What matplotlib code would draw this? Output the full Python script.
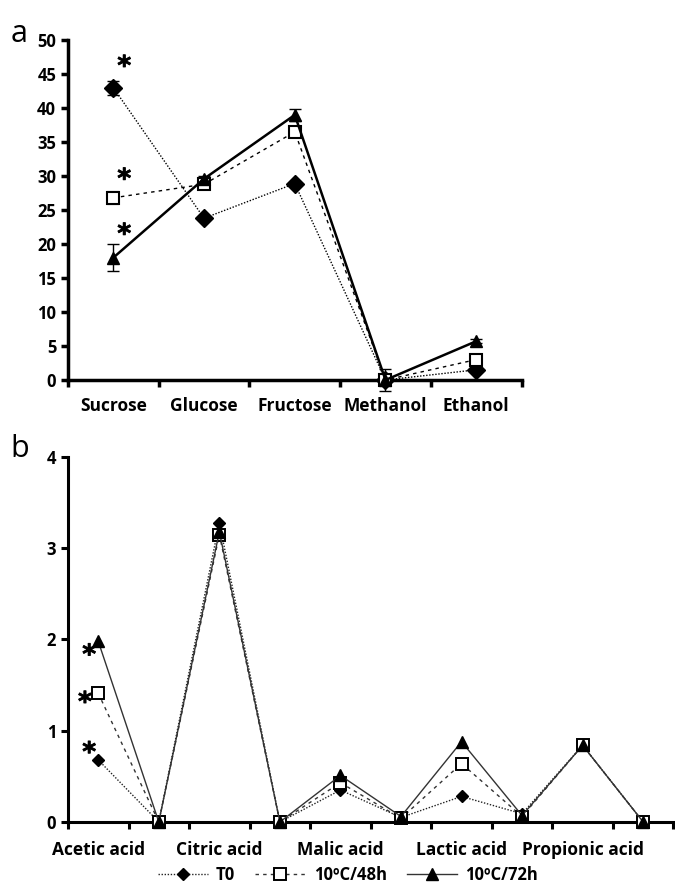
import numpy as np
import matplotlib
matplotlib.use("Agg")
import matplotlib.pyplot as plt
import matplotlib.patheffects as pe

plt.rcParams['font.family'] = ['Open Sans', 'DejaVu Sans']

# panel a: sugars and alcohols
sugars = ["Sucrose", "Glucose", "Fructose", "Methanol", "Ethanol"]
a_t0 = [43.0, 23.8, 28.9, 0.0, 1.5]
a_48 = [26.8, 28.8, 36.5, 0.0, 3.0]
a_72 = [18.0, 29.6, 39.0, 0.0, 5.7]
a_t0_err = [1.0, 0.3, 0.3, 0.0, 0.2]
a_48_err = [0.9, 0.4, 0.5, 0.0, 0.3]
a_72_err = [2.0, 0.4, 0.9, 1.6, 0.3]
a_star_y = [46.0, 29.4, 21.3]

# panel b: organic acids (every other position is an unlabeled point)
acid_labels = ["Acetic acid", "", "Citric acid", "", "Malic acid", "",
               "Lactic acid", "", "Propionic acid", ""]
b_t0 = [0.68, 0.0, 3.28, 0.0, 0.35, 0.05, 0.28, 0.09, 0.84, 0.0]
b_48 = [1.41, 0.0, 3.15, 0.0, 0.43, 0.04, 0.64, 0.06, 0.84, 0.0]
b_72 = [1.98, 0.0, 3.18, 0.0, 0.51, 0.06, 0.88, 0.07, 0.84, 0.0]
b_star_y = [1.82, 1.30, 0.75]

legend_labels = ["T0", "10ºC/48h", "10ºC/72h"]

fig = plt.figure(figsize=(6.75, 8.92), dpi=100)
ax1 = fig.add_axes([0.1007, 0.574, 0.672, 0.381])
ax2 = fig.add_axes([0.1007, 0.0785, 0.897, 0.4092])

star_fx = [pe.withStroke(linewidth=0.6, foreground="black")]


def style_axis(ax, n, labels, lw, size, pad):
    for s in ["top", "right"]:
        ax.spines[s].set_visible(False)
    for s in ["left", "bottom"]:
        ax.spines[s].set_linewidth(lw)
    ax.set_xlim(-0.5, n - 0.5)
    ax.set_xticks(np.arange(n + 1) - 0.5)
    ax.set_xticklabels([])
    ax.set_xticks(np.arange(n), minor=True)
    ax.set_xticklabels(labels, minor=True, fontsize=size, fontweight="bold")
    ax.tick_params(axis="x", which="major", direction="out", length=5, width=lw)
    ax.tick_params(axis="x", which="minor", length=0, pad=pad)
    ax.tick_params(axis="y", direction="out", length=5, width=lw, labelsize=12)
    for t in ax.get_yticklabels():
        t.set_fontweight("bold")


x1 = np.arange(len(sugars))
ax1.errorbar(x1, a_t0, yerr=a_t0_err, color="black", ls=(0, (1, 1.2)), lw=1,
             marker="D", ms=9, mfc="black", capsize=4, elinewidth=1, zorder=3)
ax1.errorbar(x1, a_48, yerr=a_48_err, color="black", ls=(0, (2.5, 3)), lw=1,
             marker="s", ms=8, mfc="white", mew=1.5, capsize=4, elinewidth=1, zorder=3)
ax1.errorbar(x1, a_72, yerr=a_72_err, color="black", ls="-", lw=1.8,
             marker="^", ms=9, mfc="black", capsize=4, elinewidth=1, zorder=3)
for y in a_star_y:
    ax1.text(0.12, y, "*", fontsize=19, fontweight="bold", ha="center", va="center",
             family="DejaVu Sans", path_effects=star_fx)
ax1.set_ylim(0, 50)
ax1.set_yticks(np.arange(0, 51, 5))
style_axis(ax1, len(sugars), sugars, 2.5, 12.5, 12)
for c in ax1.get_children():
    c.set_clip_on(False)

x2 = np.arange(len(acid_labels))
l0, = ax2.plot(x2, b_t0, color="#222222", ls=(0, (1, 1.2)), lw=1,
               marker="D", ms=6, mfc="black", mec="black", zorder=3)
l1, = ax2.plot(x2, b_48, color="#333333", ls=(0, (2.5, 3)), lw=1,
               marker="s", ms=8, mfc="white", mec="black", mew=1.4, zorder=3)
l2, = ax2.plot(x2, b_72, color="#333333", ls="-", lw=1,
               marker="^", ms=8, mfc="black", mec="black", zorder=3)
for y, dx in zip(b_star_y, [-0.15, -0.22, -0.15]):
    ax2.text(dx, y, "*", fontsize=19, fontweight="bold", ha="center", va="center",
             family="DejaVu Sans", path_effects=star_fx)
ax2.set_ylim(0, 4)
ax2.set_yticks(np.arange(0, 5, 1))
style_axis(ax2, len(acid_labels), acid_labels, 2.2, 12.5, 14)
for c in ax2.get_children():
    c.set_clip_on(False)

fig.legend([l0, l1, l2], legend_labels, loc="center", bbox_to_anchor=(0.515, 0.019),
           ncol=3, frameon=False, handlelength=3, columnspacing=1.2,
           handletextpad=0.5, prop={"size": 12, "weight": "bold"})

fig.text(0.015, 0.962, "a", fontsize=22, va="center")
fig.text(0.015, 0.497, "b", fontsize=22, va="center")

fig.savefig("out.png", dpi=100)
